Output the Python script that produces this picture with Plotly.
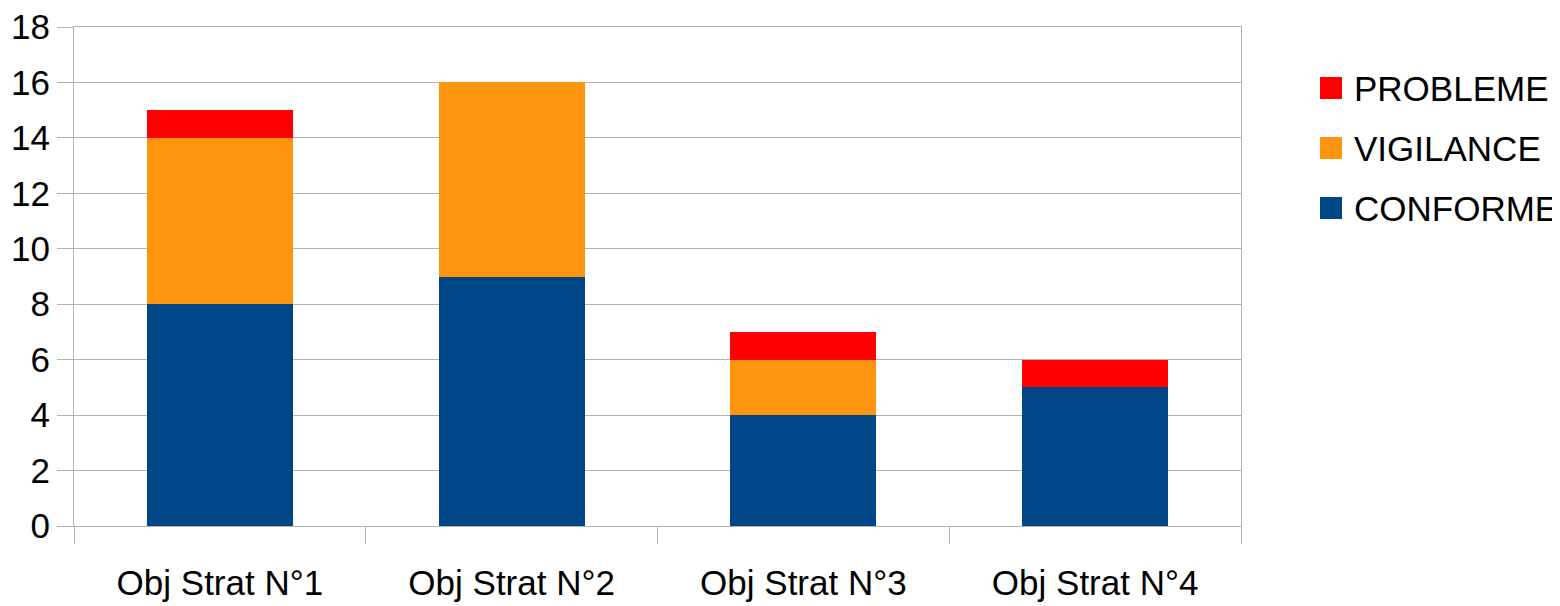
import plotly.graph_objects as go

# ── Data ──────────────────────────────────────────────────────────────────────
categories = ["Obj Strat N°1", "Obj Strat N°2", "Obj Strat N°3", "Obj Strat N°4"]
conforme = [8, 9, 4, 5]
vigilance = [6, 7, 2, 0]
probleme = [1, 0, 1, 1]
y_ticks = [0, 2, 4, 6, 8, 10, 12, 14, 16, 18]

SERIES = [
    ("CONFORME", conforme, "#004586"),
    ("VIGILANCE", vigilance, "#ff950e"),
    ("PROBLEME", probleme, "#ff0000"),
]

# page body has an 8px default margin, so the figure is drawn 8px smaller
OFF = 8
W, H = 1560 - OFF, 606 - OFF
ML, MR, MT, MB = 74 - OFF, 319, 27 - OFF, 80
GRID = "#b3b3b3"
FONT = "Liberation Sans, Arial, sans-serif"

fig = go.Figure()
for name, vals, color in SERIES:
    fig.add_trace(go.Bar(
        x=categories, y=vals, name=name,
        marker=dict(color=color, line_width=0),
        showlegend=False,
    ))

# ── Legend drawn by hand (bigger swatches than plotly allows) ────────────────
pw, ph = W - ML - MR, H - MT - MB


def px_x(p):
    # p in page pixels
    return (p - OFF - ML) / pw


def px_y(p):
    return (H - MB - (p - OFF)) / ph


legend_rows = [("PROBLEME", "#ff0000"), ("VIGILANCE", "#ff950e"), ("CONFORME", "#004586")]
for i, (name, color) in enumerate(legend_rows):
    cy = 88 + i * 60
    fig.add_shape(
        type="rect", xref="paper", yref="paper",
        x0=px_x(1320), x1=px_x(1342), y0=px_y(cy + 11), y1=px_y(cy - 11),
        fillcolor=color, line_width=0,
    )
    fig.add_annotation(
        xref="paper", yref="paper", x=px_x(1352), y=px_y(cy),
        xanchor="left", yanchor="middle", text=name, showarrow=False,
        font=dict(size=35, color="black", family=FONT),
    )

fig.update_layout(
    width=W, height=H,
    barmode="stack", bargap=0.5,
    paper_bgcolor="white", plot_bgcolor="white",
    font=dict(family=FONT, size=35, color="black"),
    margin=dict(l=ML, r=MR, t=MT, b=MB, pad=0, autoexpand=False),
    xaxis=dict(
        type="category", range=[-0.5, 3.5], tickson="boundaries",
        ticks="outside", ticklen=17, tickcolor=GRID, tickwidth=1,
        showgrid=False, showline=True, linecolor=GRID, linewidth=1, mirror=True,
        zeroline=False, automargin=False,
        ticklabelstandoff=26,
        tickfont=dict(size=35, family=FONT, color="black"),
    ),
    yaxis=dict(
        range=[0, 18], tickmode="array", tickvals=y_ticks,
        ticktext=[str(v) for v in y_ticks], ticklabeloverflow="allow",
        ticks="outside", ticklen=16, tickcolor=GRID, tickwidth=1,
        showgrid=True, gridcolor=GRID, gridwidth=1,
        showline=True, linecolor=GRID, linewidth=1, mirror=True,
        zeroline=False, ticklabelstandoff=0, automargin=False,
        tickfont=dict(size=35, family=FONT, color="black"),
    ),
)

fig.write_html("out.html")
